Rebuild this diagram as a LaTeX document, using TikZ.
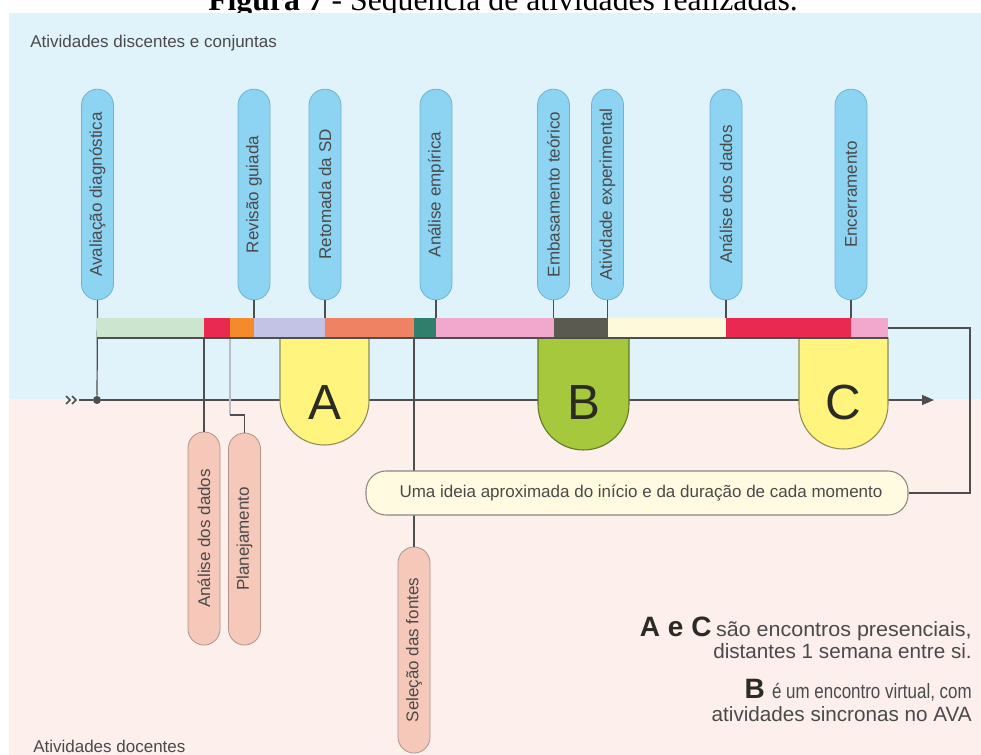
\documentclass[tikz,border=0pt]{standalone}
\usepackage{fontspec}
\setmainfont{Liberation Sans}
\newfontfamily\titlefont{Liberation Serif}
\usetikzlibrary{shapes.misc,arrows.meta}
\definecolor{bgblue}{HTML}{E0F3FA}
\definecolor{bgpink}{HTML}{FCEFEC}
\definecolor{pillblue}{HTML}{8DD3F2}
\definecolor{pillblueb}{HTML}{6FB3D3}
\definecolor{pillpink}{HTML}{F5C8BA}
\definecolor{pillpinkb}{HTML}{B0948A}
\definecolor{txt}{HTML}{4A4A4A}
\definecolor{lin}{HTML}{4E4E4E}
\definecolor{sgreen}{HTML}{CCE5CF}
\definecolor{sred}{HTML}{E9294F}
\definecolor{sorange}{HTML}{F58A2C}
\definecolor{slav}{HTML}{C3C3E5}
\definecolor{ssalmon}{HTML}{EF8262}
\definecolor{steal}{HTML}{2F7F6C}
\definecolor{spink}{HTML}{F2A7CC}
\definecolor{sdark}{HTML}{5A5A50}
\definecolor{scream}{HTML}{FFF9DC}
\definecolor{tyellow}{HTML}{FFF47E}
\definecolor{tgreen}{HTML}{A5C83C}
\definecolor{tborder}{HTML}{8C8C5A}
\definecolor{boxfill}{HTML}{FFFAE0}
\definecolor{boxdraw}{HTML}{8A8A80}
\definecolor{bigtxt}{HTML}{2B2B22}
\definecolor{palelin}{HTML}{B8BCC8}
\begin{document}
\begin{tikzpicture}[x=0.75pt,y=-0.75pt,
  lbl/.style={font=\fontsize{12.75}{15}\selectfont, text=txt},
  toppill/.style={rounded rectangle, rotate=90, draw=pillblueb, fill=pillblue, line width=0.6pt, minimum width=158pt, minimum height=24pt, inner sep=0pt, lbl},
  lowpill/.style={rounded rectangle, rotate=90, draw=pillpinkb, fill=pillpink, line width=0.6pt, minimum height=24pt, inner sep=0pt, lbl},
  conn/.style={draw=lin, line width=0.9pt},
  tongue/.style={draw=tborder, line width=0.8pt},
  bigletter/.style={font=\fontsize{37}{40}\selectfont, text=bigtxt, inner sep=0pt},
  note/.style={font=\fontsize{15.5}{18}\selectfont, text=txt, inner sep=0pt, anchor=base east},
  notebig/.style={font=\bfseries\fontsize{21}{24}\selectfont, text=bigtxt, inner sep=0pt, anchor=base east}
]
\useasboundingbox (0,0) rectangle (981,755);
\clip (0,0) rectangle (981,755);

% title (cut at the top edge, as in the reference)
\node[font=\titlefont\fontsize{23.8}{26}\selectfont, anchor=base west, text=black, inner sep=0pt] (title) at (208,11) {\textbf{Figura 7} - Sequência de atividades realizadas.};

% backgrounds
\fill[bgblue] (9,13) rectangle (981,399);
\fill[bgpink] (9,399) rectangle (981,755);

\node[lbl, anchor=base west, inner sep=0pt] (lbltop) at (30,48) {Atividades discentes e conjuntas};
\node[lbl, anchor=base west, inner sep=0pt] (lblbot) at (33,752) {Atividades docentes};

% coordinates
\coordinate (bartop) at (0,318);
\coordinate (barbot) at (0,338);
\coordinate (barend) at (888,328);
\coordinate (frameR) at (970,328);
\coordinate (axstart) at (79,400);
\coordinate (axend) at (934,400);
\coordinate (plstart) at (230,338);
\coordinate (plstep) at (230,415);

% top pills
\node[toppill] (avd) at (97.5,194.5) {Avaliação diagnóstica};
\node[toppill] (rev) at (254,194.5) {Revisão guiada};
\node[toppill] (ret) at (325,194.5) {Retomada da SD};
\node[toppill] (ane) at (436,194.5) {Análise empírica};
\node[toppill] (emb) at (553.5,194.5) {Embasamento teórico};
\node[toppill] (ati) at (607.5,194.5) {Atividade experimental};
\node[toppill] (and) at (726,194.5) {Análise dos dados};
\node[toppill] (enc) at (851,194.5) {Encerramento};

% lower pills
\node[lowpill, minimum width=159.75pt] (ad2) at (204,538.5) {Análise dos dados};
\node[lowpill, minimum width=159pt] (pla) at (244.5,539) {Planejamento};
\node[lowpill, minimum width=154.5pt] (sel) at (414,650) {Seleção das fontes};

% axis
\node[circle, fill=lin, minimum size=6pt, inner sep=0pt] (dot) at (97,400) {};
\draw[lin, line width=1.3pt] (66,396) -- (70,400) -- (66,404) (72,396) -- (76,400) -- (72,404);
\draw[conn] (axstart) -- (dot);
\draw[conn, -{Triangle[length=9pt,width=7.5pt]}] (dot) -- (axend);

% connectors
\draw[conn] (avd.west) -- (dot);
\foreach \n in {rev,ret,ane,emb,ati,and,enc} {\draw[conn] (\n.west) -- (\n.west |- bartop);}
\draw[conn] (ad2.east) -- (ad2.east |- barbot);
\draw[conn] (sel.east) -- (sel.east |- barbot);
\draw[draw=palelin, line width=0.8pt] (plstart) -- (plstep);
\draw[conn, line width=0.8pt] (plstep) -| (pla.east);

% bar
\fill[sgreen] (97,318) rectangle (204,338);
\fill[sred] (204,318) rectangle (230,338);
\fill[sorange] (230,318) rectangle (254,338);
\fill[slav] (254,318) rectangle (325,338);
\fill[ssalmon] (325,318) rectangle (414,338);
\fill[steal] (414,318) rectangle (436,338);
\fill[spink] (436,318) rectangle (553.5,338);
\fill[sdark] (553.5,318) rectangle (607.5,338);
\fill[scream] (607.5,318) rectangle (726,338);
\fill[sred] (726,318) rectangle (851,338);
\fill[spink] (851,318) rectangle (888,338);

% tongues
\draw[tongue, fill=tyellow] (280,338) -- (280,400.5) arc[start angle=180, end angle=0, x radius=44.5, y radius=44.5] -- (369,338) -- cycle;
\draw[tongue, fill=tgreen, draw=tgreen!60!black] (538,338) -- (538,404.5) arc[start angle=180, end angle=0, x radius=45.5, y radius=45.5] -- (629,338) -- cycle;
\draw[tongue, fill=tyellow] (799,338) -- (799,404.5) arc[start angle=180, end angle=0, x radius=44.5, y radius=44.5] -- (888,338) -- cycle;
\draw[conn] (97,338) -- (888,338);
\node[bigletter] (la) at (324.5,403) {A};
\node[bigletter] (lb) at (584,403) {B};
\node[bigletter] (lc) at (843.5,403) {C};

% idea box
\node[draw=boxdraw, fill=boxfill, line width=0.8pt, rounded corners=15pt, minimum width=406.5pt, minimum height=33pt, inner sep=0pt, lbl] (idea) at (637,493) {\hspace*{6pt}Uma ideia aproximada do início e da duração de cada momento};
\draw[conn] (barend) -- (frameR) |- (idea.east);

% notes
\node[note] (t1) at (972,636) {\scalebox{1.04}[1]{são encontros presenciais,}};
\node[notebig] (aec) at ([xshift=-3pt]t1.base west) {A e C};
\node[note] (t2) at (972,658) {distantes 1 semana entre si.};
\node[note] (t3) at (972,698) {\scalebox{0.82}[1]{é um encontro virtual, com}};
\node[notebig] (bb) at ([xshift=-5pt]t3.base west) {B};
\node[note] (t4) at (972,721) {atividades sincronas no AVA};
\end{tikzpicture}
\end{document}
